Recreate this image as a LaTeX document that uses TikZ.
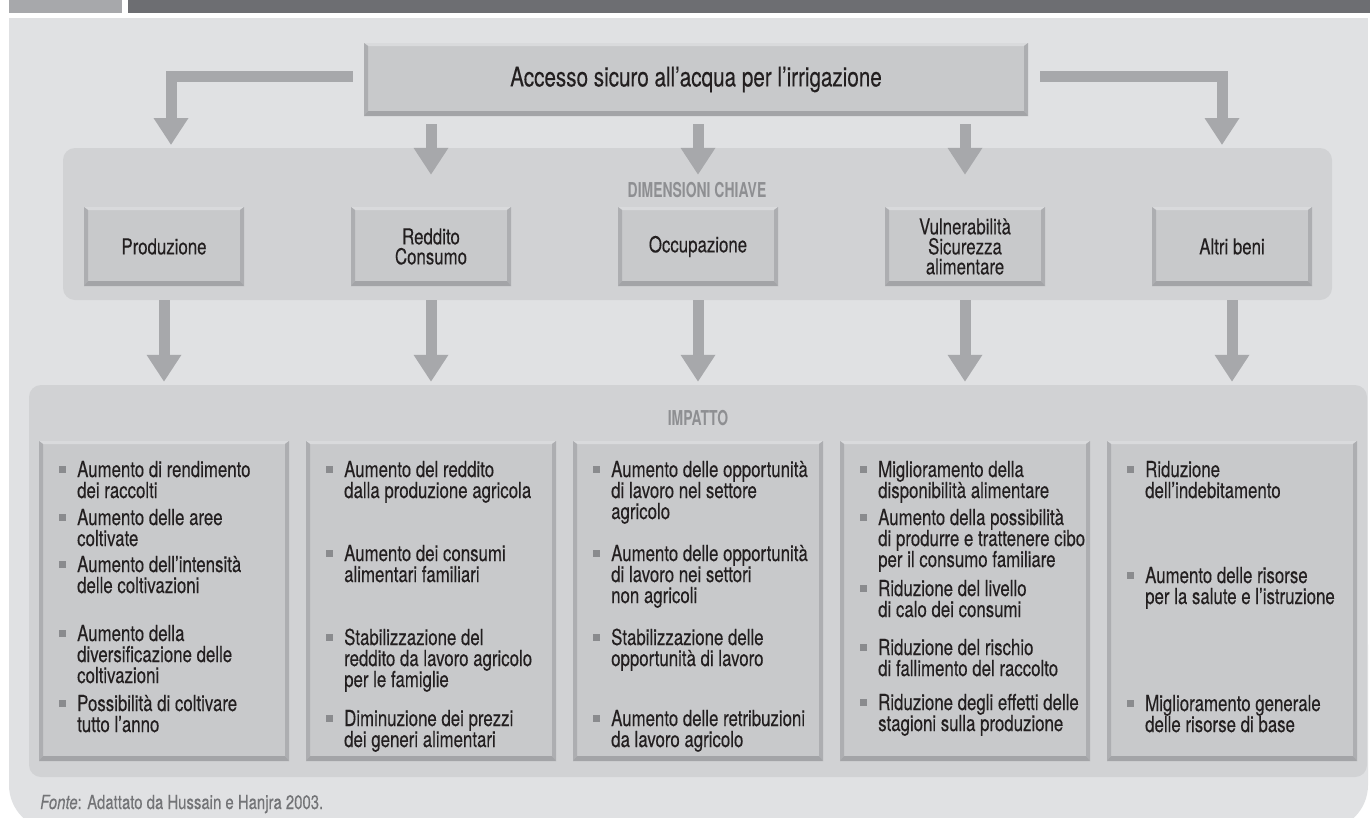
\documentclass[tikz,border=0pt]{standalone}
\usepackage{fontspec}
\setmainfont{TeX Gyre Heros}[FakeStretch=0.765,FakeBold=0.25]
\newfontfamily\labelfont{TeX Gyre Heros}[FakeStretch=0.68]
\usepackage{xcolor}
\usetikzlibrary{arrows.meta,positioning}

\definecolor{bgouter}{HTML}{E0E1E3}
\definecolor{panelgray}{HTML}{D1D2D4}
\definecolor{boxface}{HTML}{C8C9CB}
\definecolor{bevlight}{HTML}{D9DADC}
\definecolor{bevside}{HTML}{ADAEB1}
\definecolor{bevbottom}{HTML}{A3A4A7}
\definecolor{arrowgray}{HTML}{A7A8AB}
\definecolor{bardark}{HTML}{6D6E72}
\definecolor{barlight}{HTML}{A7A8AB}
\definecolor{txtdark}{HTML}{231F20}
\definecolor{labelgray}{HTML}{8E8F92}
\definecolor{bulletgray}{HTML}{8A8B8E}
\definecolor{srcgray}{HTML}{737477}

\newcommand{\bul}{\leavevmode\llap{\textcolor{bulletgray}{\rule[4pt]{7pt}{7pt}}\hspace{11pt}}}
\newcommand{\imptext}[1]{\parbox[t]{240pt}{\raggedright\bul#1}}

\begin{document}
\begin{tikzpicture}[x=1pt,y=-1pt,
    bevel/.style={fill=boxface,inner sep=0pt,align=center,text=txtdark,
      path picture={
        \path (path picture bounding box.south west) coordinate (b-sw)
              (path picture bounding box.north east) coordinate (b-ne)
              (b-sw |- b-ne) coordinate (b-nw) (b-ne |- b-sw) coordinate (b-se);
        \fill[bevlight] (b-nw)--(b-ne)--([shift={(-4pt,-3pt)}]b-ne)--([shift={(4pt,-3pt)}]b-nw)--cycle;
        \fill[bevside] (b-nw)--([shift={(4pt,-3pt)}]b-nw)--([shift={(4pt,5pt)}]b-sw)--(b-sw)--cycle;
        \fill[bevside] (b-ne)--([shift={(-4pt,-3pt)}]b-ne)--([shift={(-4pt,5pt)}]b-se)--(b-se)--cycle;
        \fill[bevbottom] (b-sw)--([shift={(4pt,5pt)}]b-sw)--([shift={(-4pt,5pt)}]b-se)--(b-se)--cycle;}},
    dimbox/.style={bevel,minimum width=160pt,minimum height=79pt,font=\fontsize{22}{20}\selectfont},
    impbox/.style={bevel,minimum width=250pt,minimum height=320pt},
    panel/.style={fill=panelgray,rounded corners=12pt,inner sep=0pt},
    fatarrow/.style={draw=arrowgray,line width=11pt,-{Triangle[width=33pt,length=27pt]}},
    impitem/.style={anchor=base west,inner sep=0pt,text=txtdark,font=\fontsize{22}{21}\selectfont},
    headlabel/.style={text=labelgray,font=\labelfont\bfseries\fontsize{20.5}{20.5}\selectfont}]
  \useasboundingbox (0,0) rectangle (1370,817);
  \clip (0,0) rectangle (1370,817);
  \fill[white] (0,0) rectangle (1370,817);
  % title bar and background
  \fill[barlight] (9,0) rectangle (122,13);
  \fill[bardark] (128,0) rectangle (1370,13);
  \fill[bgouter] (9,18) rectangle (1368,700);
  \fill[bgouter,rounded corners=45pt] (9,600) rectangle (1368,830);
  \node[panel,minimum width=1269pt,minimum height=152pt] (dim) at (697.5,224) {};
  \node[panel,minimum width=1338pt,minimum height=392pt] (imp) at (698,581) {};
  \node[bevel,minimum width=664pt,minimum height=73pt,font=\fontsize{27}{27}\selectfont] (acc) at (696,79.5) {Accesso sicuro all’acqua per l’irrigazione};
  \node[headlabel] (dimlab) at (697,190) {DIMENSIONI CHIAVE};
  \node[headlabel] (implab) at (698,418) {IMPATTO};
  \foreach \i/\x/\t in {1/164/Produzione,2/431/{Reddito\\Consumo},3/698/Occupazione,
      4/965/{Vulnerabilità\\Sicurezza\\alimentare},5/1232/Altri beni}
    \node[dimbox] (d\i) at (\x,246.5) {\t};
  \foreach \i in {1,...,5}
    \node[impbox] (i\i) at ({164+267*(\i-1)},601) {};
  % connectors
  \coordinate (t1) at (171,145);
  \coordinate (t5) at (1222,145);
  \draw[fatarrow] ([shift={(-11pt,3.5pt)}]acc.west) -| (t1);
  \draw[fatarrow] ([shift={(12pt,3.5pt)}]acc.east) -| (t5);
  \foreach \i in {2,3,4}
    \draw[fatarrow] ([yshift=-8pt]acc.south -| d\i.north) -- ([yshift=-27pt]dim.north -| d\i.north);
  \foreach \i in {1,...,5}
    \draw[fatarrow] (dim.south -| d\i.south) -- ([yshift=3pt]imp.north -| d\i.south);
  % impact lists
  \foreach \n/\y/\t in {a/477/{Aumento di rendimento\\dei raccolti},b/525/{Aumento delle aree\\coltivate},
      c/572/{Aumento dell’intensità\\delle coltivazioni},d/641/{Aumento della\\diversificazione delle\\coltivazioni},
      e/711/{Possibilità di coltivare\\tutto l’anno}}
    \node[impitem] (p1\n) at (77,\y) {\imptext{\t}};
  \foreach \n/\y/\t in {a/477/{Aumento del reddito\\dalla produzione agricola},b/561/{Aumento dei consumi\\alimentari familiari},
      c/645/{Stabilizzazione del\\reddito da lavoro agricolo\\per le famiglie},d/726/{Diminuzione dei prezzi\\dei generi alimentari}}
    \node[impitem] (p2\n) at (344,\y) {\imptext{\t}};
  \foreach \n/\y/\t in {a/477/{Aumento delle opportunità\\di lavoro nel settore\\agricolo},b/561/{Aumento delle opportunità\\di lavoro nei settori\\non agricoli},
      c/645/{Stabilizzazione delle\\opportunità di lavoro},d/726/{Aumento delle retribuzioni\\da lavoro agricolo}}
    \node[impitem] (p3\n) at (611,\y) {\imptext{\t}};
  \foreach \n/\y/\t in {a/477/{Miglioramento della\\disponibilità alimentare},b/525/{Aumento della possibilità\\di produrre e trattenere cibo\\per il consumo familiare},
      c/596/{Riduzione del livello\\di calo dei consumi},d/655/{Riduzione del rischio\\di fallimento del raccolto},
      e/710/{Riduzione degli effetti delle\\stagioni sulla produzione}}
    \node[impitem] (p4\n) at (878,\y) {\imptext{\t}};
  \foreach \n/\y/\t in {a/477/{Riduzione\\dell’indebitamento},b/583/{Aumento delle risorse\\per la salute e l’istruzione},
      c/711/{Miglioramento generale\\delle risorse di base}}
    \node[impitem] (p5\n) at (1145,\y) {\imptext{\t}};
  \node[anchor=base west,inner sep=0pt,text=srcgray,font=\fontsize{19.5}{19.5}\selectfont] (src) at (40,809) {\textit{Fonte}: Adattato da Hussain e Hanjra 2003.};
\end{tikzpicture}
\end{document}
